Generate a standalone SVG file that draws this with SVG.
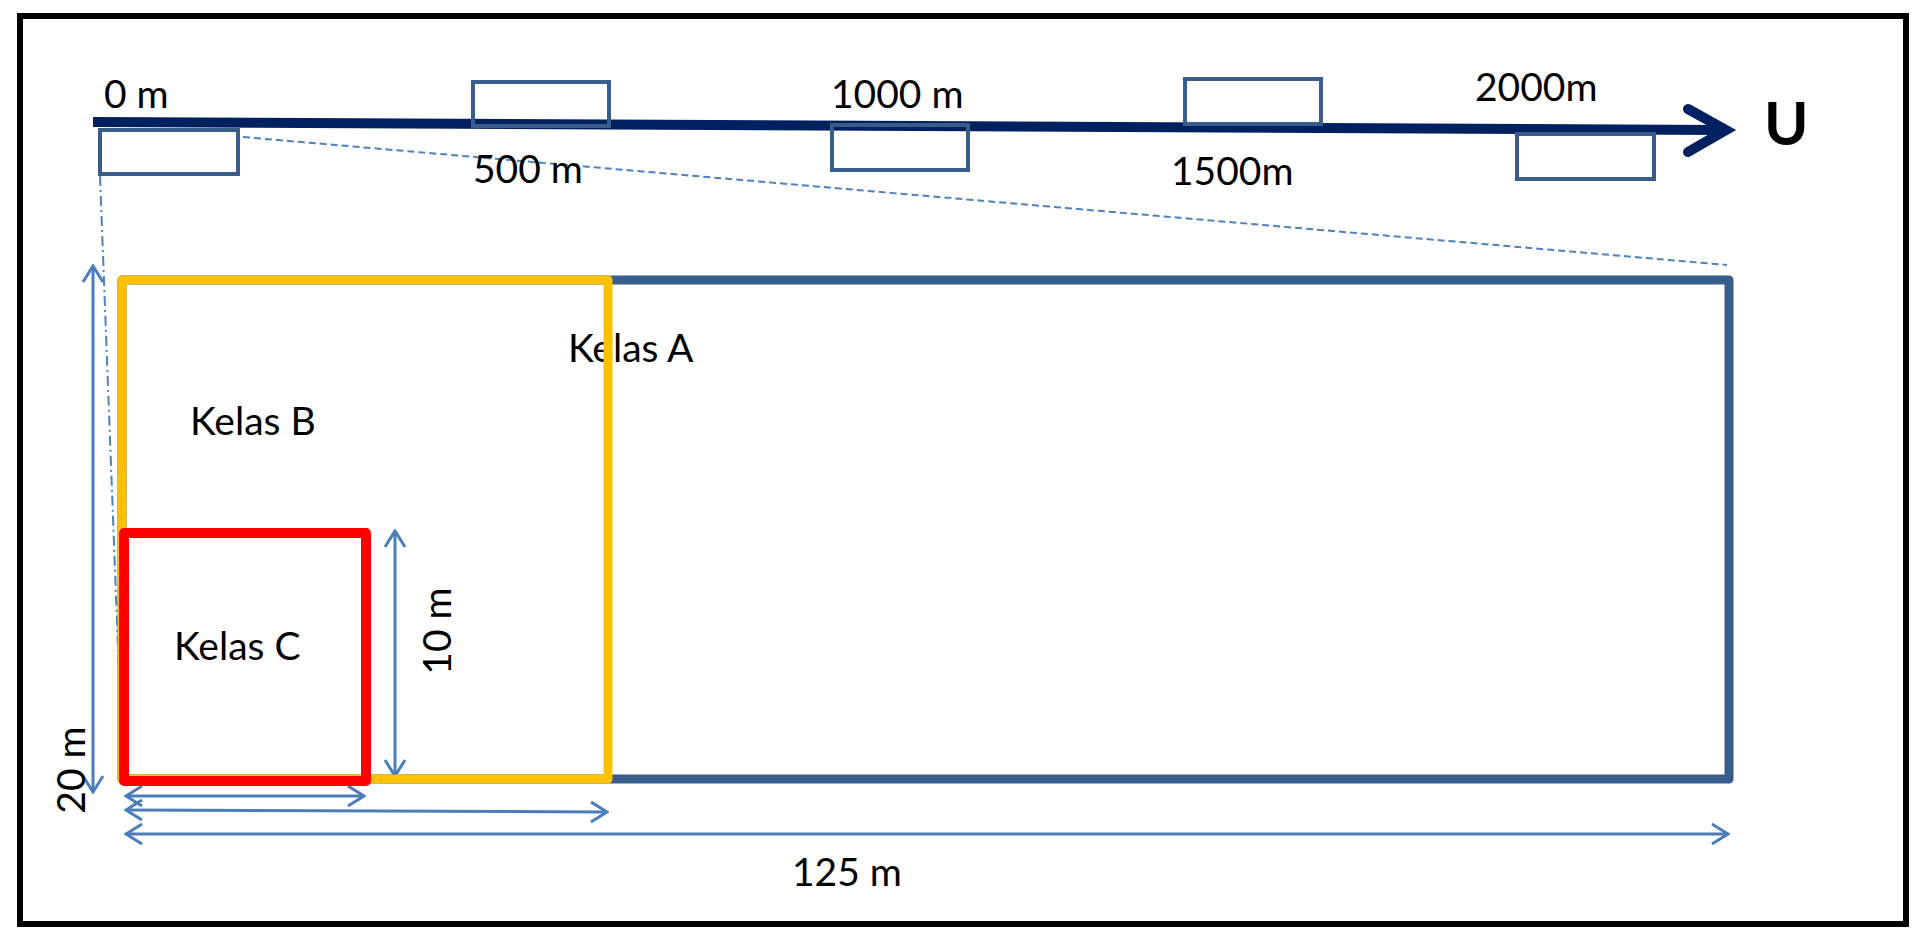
<svg xmlns="http://www.w3.org/2000/svg" width="1921" height="938" viewBox="0 0 1921 938">
<style>
.lbl{font-family:Lato,"Liberation Sans",sans-serif;font-size:39px;fill:#000}
.mk{fill:none;stroke:#385D8A;stroke-width:4}
.dim{fill:none;stroke:#4A7EBB;stroke-width:3}
.dash{fill:none;stroke:#4F81BD;stroke-width:2}
</style>
<defs>
<marker id="ah" viewBox="0 0 20 24" refX="18" refY="12" markerWidth="20" markerHeight="24" markerUnits="userSpaceOnUse" orient="auto-start-reverse">
<path d="M2,2 L18,12 L2,22" fill="none" stroke="#4A7EBB" stroke-width="3"/>
</marker>
</defs>
<rect x="0" y="0" width="1921" height="938" fill="#fff"/>
<rect id="frame" x="20" y="16" width="1886" height="908" fill="none" stroke="#000" stroke-width="6"/>

<g id="connectors">
<line class="dash" x1="243" y1="137" x2="1727" y2="265" stroke-dasharray="7 4"/>
<line class="dash" x1="100" y1="176" x2="123" y2="780" stroke-dasharray="10 4 2 4"/>
<line class="dim" x1="93" y1="792" x2="93" y2="266" marker-start="url(#ah)" marker-end="url(#ah)"/>
<line class="dim" x1="395" y1="776" x2="395" y2="531" marker-start="url(#ah)" marker-end="url(#ah)"/>
<line class="dim" x1="126" y1="796" x2="364" y2="796" marker-start="url(#ah)" marker-end="url(#ah)"/>
<line class="dim" x1="126" y1="810" x2="607" y2="812" marker-start="url(#ah)" marker-end="url(#ah)"/>
<line class="dim" x1="126" y1="834" x2="1728" y2="834" marker-start="url(#ah)" marker-end="url(#ah)"/>
</g>

<g id="axis">
<line x1="93" y1="122" x2="1720" y2="130" stroke="#002060" stroke-width="10"/>
<polyline points="1688,109 1726,130 1688,152" fill="none" stroke="#002060" stroke-width="10" stroke-linecap="round" stroke-linejoin="miter"/>
<text x="1764" y="145" style="font-family:Lato,'Liberation Sans',sans-serif;font-size:60px;font-weight:bold">U</text>
</g>

<g id="m0"><rect class="mk" x="100" y="130" width="138" height="44"/><text class="lbl" x="104" y="108">0 m</text></g>
<g id="m500"><rect class="mk" x="473" y="82" width="136" height="44"/><text class="lbl" x="473" y="183">500 m</text></g>
<g id="m1000"><rect class="mk" x="832" y="125" width="136" height="45"/><text class="lbl" x="831" y="108">1000 m</text></g>
<g id="m1500"><rect class="mk" x="1185" y="79" width="136" height="45"/><text class="lbl" x="1171" y="185">1500m</text></g>
<g id="m2000"><rect class="mk" x="1517" y="134" width="137" height="45"/><text class="lbl" x="1475" y="101">2000m</text></g>

<g id="kelasA"><rect x="122" y="280" width="1607" height="499" fill="none" stroke="#385D8A" stroke-width="9" stroke-linejoin="round"/><text class="lbl" x="568" y="362">Kelas A</text></g>
<g id="kelasB"><rect x="122" y="280" width="486" height="499" fill="none" stroke="#FFC000" stroke-width="9" stroke-linejoin="round"/><text class="lbl" x="190" y="435">Kelas B</text></g>
<g id="kelasC"><rect x="124" y="533" width="242" height="248" fill="none" stroke="#FF0000" stroke-width="10" stroke-linejoin="round"/><text class="lbl" x="174" y="660">Kelas C</text></g>

<g id="labels">
<text class="lbl" transform="translate(85,770) rotate(-90)" text-anchor="middle">20 m</text>
<text class="lbl" transform="translate(451,631) rotate(-90)" text-anchor="middle">10 m</text>
<text class="lbl" x="792" y="886">125 m</text>
</g>
</svg>
